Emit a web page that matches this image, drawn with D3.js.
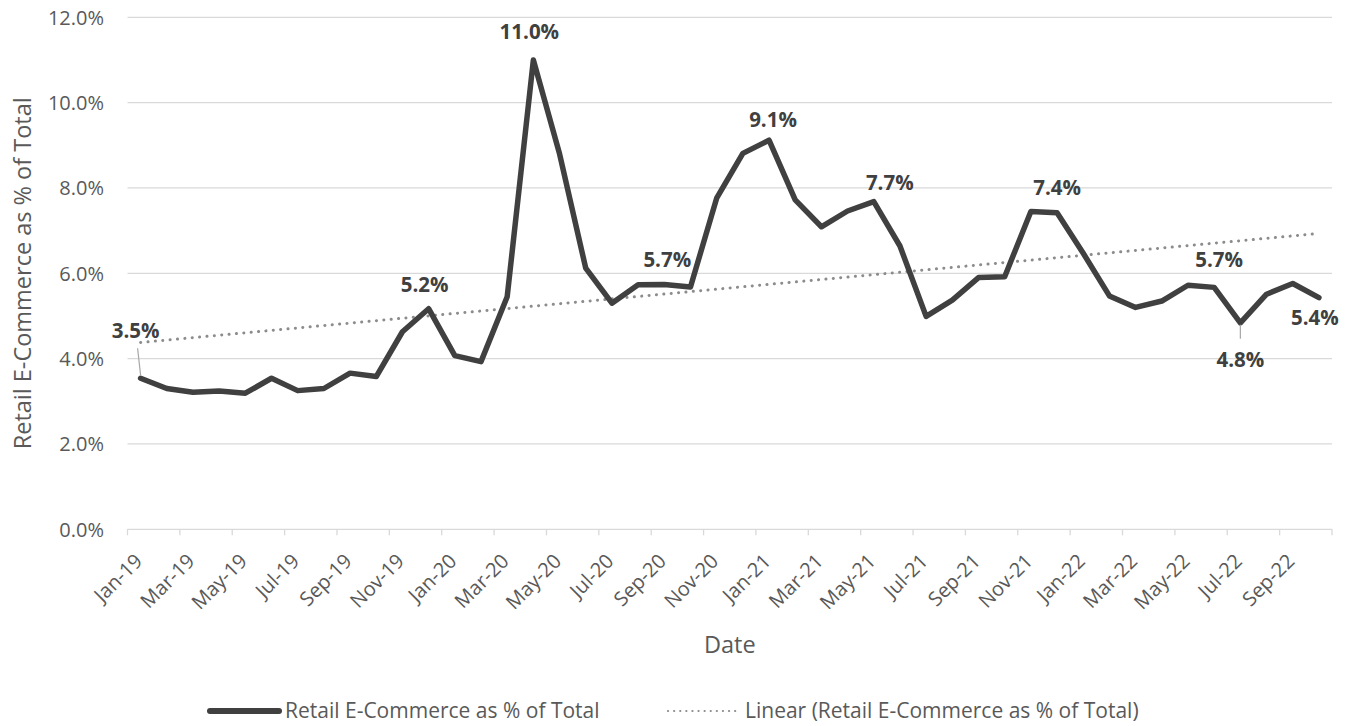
<!DOCTYPE html>
<html>
<head>
<meta charset="utf-8">
<script src="https://cdn.jsdelivr.net/npm/d3@7/dist/d3.min.js"></script>
<style>
  html, body { margin: 0; padding: 0; background: #ffffff; }
  svg { display: block; }
  text { font-family: "Open Sans", "DejaVu Sans", sans-serif; }
</style>
</head>
<body>
<svg id="chart" width="1359" height="726"></svg>
<script>
// Monthly categories, Jan-2019 to Oct-2022
const months = [
  "Jan-19","Feb-19","Mar-19","Apr-19","May-19","Jun-19","Jul-19","Aug-19","Sep-19","Oct-19","Nov-19","Dec-19",
  "Jan-20","Feb-20","Mar-20","Apr-20","May-20","Jun-20","Jul-20","Aug-20","Sep-20","Oct-20","Nov-20","Dec-20",
  "Jan-21","Feb-21","Mar-21","Apr-21","May-21","Jun-21","Jul-21","Aug-21","Sep-21","Oct-21","Nov-21","Dec-21",
  "Jan-22","Feb-22","Mar-22","Apr-22","May-22","Jun-22","Jul-22","Aug-22","Sep-22","Oct-22"
];

// Retail e-commerce share of total retail sales (%)
const ecomShare = [
  3.54, 3.30, 3.21, 3.24, 3.19, 3.54, 3.25, 3.30, 3.66, 3.58, 4.63, 5.17,
  4.07, 3.93, 5.45, 11.0, 8.80, 6.12, 5.30, 5.73, 5.74, 5.68, 7.76, 8.81,
  9.12, 7.72, 7.09, 7.46, 7.68, 6.64, 4.99, 5.37, 5.90, 5.92, 7.45, 7.42,
  6.47, 5.47, 5.20, 5.35, 5.72, 5.67, 4.84, 5.51, 5.76, 5.43
];

// Months shown on the date axis (every second month)
const tickMonths = [
  "Jan-19","Mar-19","May-19","Jul-19","Sep-19","Nov-19",
  "Jan-20","Mar-20","May-20","Jul-20","Sep-20","Nov-20",
  "Jan-21","Mar-21","May-21","Jul-21","Sep-21","Nov-21",
  "Jan-22","Mar-22","May-22","Jul-22","Sep-22"
];

// Percent ticks on the value axis
const yTicks = [0, 2, 4, 6, 8, 10, 12];

// Months that carry a value label
const labelledMonths = ["Jan-19","Dec-19","Apr-20","Sep-20","Jan-21","May-21","Dec-21","Jun-22","Jul-22","Oct-22"];

const seriesName = "Retail E-Commerce as % of Total";

// ---- layout ----
const plot = { left: 127.5, right: 1332, top: 17.3, bottom: 529.3 };
const svg = d3.select("#chart");

const x = d3.scaleBand().domain(months).range([plot.left, plot.right]).padding(0);
const xc = m => x(m) + x.bandwidth() / 2;
const y = d3.scaleLinear().domain([0, 12]).range([plot.bottom, plot.top]);

const gridColor = "#d9d9d9";
const textGray = "#595959";
const lineColor = "#404040";
const trendColor = "#8c8c8c";

// gridlines
svg.append("g")
  .selectAll("line")
  .data(yTicks.filter(t => t > 0))
  .join("line")
  .attr("x1", plot.left).attr("x2", plot.right)
  .attr("y1", d => y(d)).attr("y2", d => y(d))
  .attr("stroke", gridColor).attr("stroke-width", 1.3);

// y tick labels
svg.append("g")
  .selectAll("text")
  .data(yTicks)
  .join("text")
  .attr("x", 104)
  .attr("y", d => y(d))
  .attr("dy", "0.36em")
  .attr("text-anchor", "end")
  .attr("font-size", 20)
  .attr("fill", textGray)
  .text(d => d3.format(".1%")(d / 100));

// x axis line and ticks
const xAxisG = svg.append("g");
xAxisG.append("line")
  .attr("x1", plot.left).attr("x2", plot.right)
  .attr("y1", plot.bottom).attr("y2", plot.bottom)
  .attr("stroke", gridColor).attr("stroke-width", 1.3);

const tickPositions = tickMonths.map(m => x(m)).concat([plot.right]);
xAxisG.selectAll("line.tick")
  .data(tickPositions)
  .join("line")
  .attr("class", "tick")
  .attr("x1", d => d).attr("x2", d => d)
  .attr("y1", plot.bottom).attr("y2", plot.bottom + 6)
  .attr("stroke", gridColor).attr("stroke-width", 1.3);

xAxisG.selectAll("text")
  .data(tickMonths)
  .join("text")
  .attr("text-anchor", "end")
  .attr("font-size", 20)
  .attr("fill", textGray)
  .attr("transform", m => `translate(${xc(m) + 3},${plot.bottom + 33}) rotate(-45)`)
  .text(m => m);

// axis titles
svg.append("text")
  .attr("transform", `translate(31,${(plot.top + plot.bottom) / 2}) rotate(-90)`)
  .attr("text-anchor", "middle")
  .attr("font-size", 23.5)
  .attr("fill", textGray)
  .text(seriesName);

svg.append("text")
  .attr("x", (plot.left + plot.right) / 2)
  .attr("y", 653)
  .attr("text-anchor", "middle")
  .attr("font-size", 23.5)
  .attr("fill", textGray)
  .text("Date");

// linear trend (least squares on month index)
const idx = ecomShare.map((_, i) => i);
const n = idx.length;
const mx = d3.mean(idx), my = d3.mean(ecomShare);
const slope = d3.sum(idx, i => (i - mx) * (ecomShare[i] - my)) / d3.sum(idx, i => (i - mx) * (i - mx));
const intercept = my - slope * mx;
const trendPts = [0, n - 1].map(i => ({ m: months[i], v: intercept + slope * i }));

svg.append("path")
  .datum(trendPts)
  .attr("fill", "none")
  .attr("stroke", trendColor)
  .attr("stroke-width", 3)
  .attr("stroke-linecap", "round")
  .attr("stroke-dasharray", "0.1 7.3")
  .attr("d", d3.line().x(d => xc(d.m)).y(d => y(d.v)));

// main series
const series = months.map((m, i) => ({ m, v: ecomShare[i] }));
svg.append("path")
  .datum(series)
  .attr("fill", "none")
  .attr("stroke", lineColor)
  .attr("stroke-width", 5.5)
  .attr("stroke-linejoin", "round")
  .attr("stroke-linecap", "round")
  .attr("d", d3.line().x(d => xc(d.m)).y(d => y(d.v)));

// value labels: placement offsets relative to each point
const labelPlacement = {
  "Jan-19": { dx: -5, dy: -40, leader: [-30, -3] },
  "Dec-19": { dx: -4, dy: -17 },
  "Apr-20": { dx: -4, dy: -21 },
  "Sep-20": { dx: 3,  dy: -17 },
  "Jan-21": { dx: 4,  dy: -13 },
  "May-21": { dx: 16, dy: -12 },
  "Dec-21": { dx: 0,  dy: -18 },
  "Jun-22": { dx: 5,  dy: -20 },
  "Jul-22": { dx: 0,  dy: 44, leader: [16, 2] },
  "Oct-22": { dx: -4, dy: 27 }
};

const labelData = labelledMonths.map(m => ({ m, v: ecomShare[months.indexOf(m)], p: labelPlacement[m] }));

svg.append("g")
  .selectAll("line")
  .data(labelData.filter(d => d.p.leader))
  .join("line")
  .attr("x1", d => xc(d.m) + (d.p.leader[0] < 0 ? -3 : 0))
  .attr("y1", d => y(d.v) + d.p.leader[0])
  .attr("x2", d => xc(d.m))
  .attr("y2", d => y(d.v) + d.p.leader[1])
  .attr("stroke", "#a6a6a6")
  .attr("stroke-width", 1.2);

svg.append("g")
  .selectAll("text")
  .data(labelData)
  .join("text")
  .attr("x", d => xc(d.m) + d.p.dx)
  .attr("y", d => y(d.v) + d.p.dy)
  .attr("text-anchor", "middle")
  .attr("font-size", 20.5)
  .attr("font-weight", "bold")
  .attr("fill", lineColor)
  .text(d => d3.format(".1%")(d.v / 100));

// legend
const legend = svg.append("g");
legend.append("line")
  .attr("x1", 210).attr("x2", 279).attr("y1", 711).attr("y2", 711)
  .attr("stroke", lineColor).attr("stroke-width", 6).attr("stroke-linecap", "round");
legend.append("text")
  .attr("x", 285).attr("y", 718)
  .attr("font-size", 21)
  .attr("fill", textGray)
  .text(seriesName);
legend.append("line")
  .attr("x1", 668).attr("x2", 736).attr("y1", 711).attr("y2", 711)
  .attr("stroke", trendColor).attr("stroke-width", 2.2)
  .attr("stroke-linecap", "round").attr("stroke-dasharray", "0.1 6");
legend.append("text")
  .attr("x", 745).attr("y", 718)
  .attr("font-size", 21)
  .attr("fill", textGray)
  .text(`Linear (${seriesName})`);
</script>
</body>
</html>
